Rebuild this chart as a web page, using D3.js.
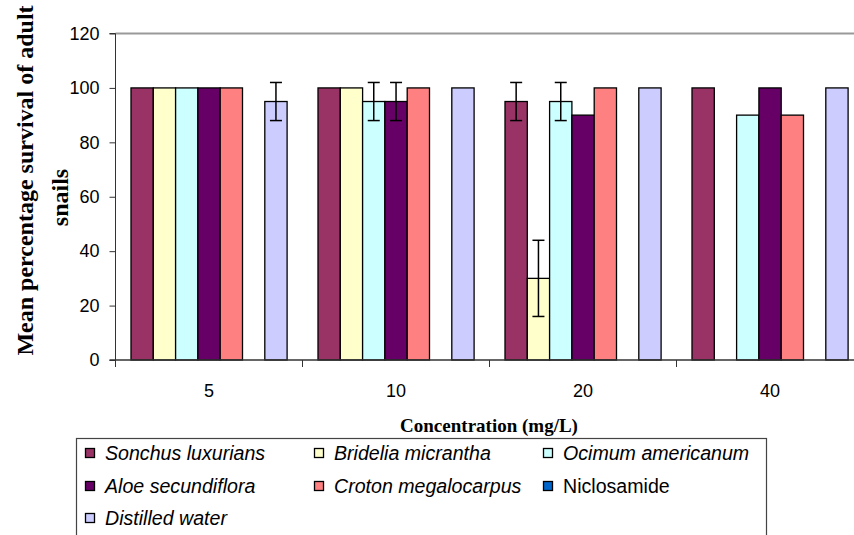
<!DOCTYPE html>
<html lang="en">
<head>
<meta charset="UTF-8">
<title>Snail survival</title>
<script src="https://cdn.jsdelivr.net/npm/d3@7"></script>
<style>
  body { margin: 0; background: #fff; }
  svg { display: block; }
</style>
</head>
<body>
<script>
// concentrations (mg/L)
const categories = ["5", "10", "20", "40"]

const seriesNames = ["Sonchus luxurians", "Bridelia micrantha", "Ocimum americanum",
    "Aloe secundiflora", "Croton megalocarpus", "Niclosamide", "Distilled water"]
const seriesColours = ["#993366", "#FFFFCC", "#CCFFFF", "#660066", "#FF8080", "#0066CC", "#CCCCFF"]
const italicNames = [true, true, true, true, true, false, true]

// mean % survival per concentration
const sonchus = [100, 100, 95, 100]
const bridelia = [100, 100, 30, 0]
const ocimum = [100, 95, 95, 90]
const aloe = [100, 95, 90, 100]
const croton = [100, 100, 100, 90]
const niclosamide = [0, 0, 0, 0]
const distilled = [95, 100, 100, 100]

// error bar half-lengths
const sonchusErr = [0, 0, 7, 0]
const brideliaErr = [0, 0, 14, 0]
const ocimumErr = [0, 7, 7, 0]
const aloeErr = [0, 7, 0, 0]
const crotonErr = [0, 0, 0, 0]
const niclosamideErr = [0, 0, 0, 0]
const distilledErr = [7, 0, 0, 0]

const yTicks = [0, 20, 40, 60, 80, 100, 120]

const values = [sonchus, bridelia, ocimum, aloe, croton, niclosamide, distilled]
const errors = [sonchusErr, brideliaErr, ocimumErr, aloeErr, crotonErr, niclosamideErr, distilledErr]

const rows = []
categories.forEach((c, ci) => {
    seriesNames.forEach((s, si) => {
        rows.push({cat: c, series: s, colour: seriesColours[si], value: values[si][ci], err: errors[si][ci]})
    })
})

const w = 854, h = 535
const svg = d3.select("body").append("svg").attr("width", w).attr("height", h)

const x0 = d3.scaleBand().domain(categories).range([115.5, 863.5])
const x1 = d3.scaleBand().domain(seriesNames).range([15.5, 171.6])
const y = d3.scaleLinear().domain([0, 120]).range([360, 33.5])

// plot top border
svg.append("line")
    .attr("x1", 115.5).attr("x2", w).attr("y1", y(120)).attr("y2", y(120))
    .attr("stroke", "#999").attr("stroke-width", 2)

// bars
svg.append("g").selectAll("rect")
    .data(rows).enter()
    .append("rect")
    .attr("x", d => x0(d.cat) + x1(d.series))
    .attr("y", d => y(d.value))
    .attr("width", x1.bandwidth())
    .attr("height", d => y(0) - y(d.value))
    .attr("fill", d => d.colour)
    .attr("stroke", "#000")
    .attr("stroke-width", 1.3)

// error bars
const eb = svg.append("g").selectAll("g")
    .data(rows.filter(d => d.err > 0)).enter()
    .append("g")
    .attr("stroke", "#000").attr("stroke-width", 1.5)
eb.append("line")
    .attr("x1", d => x0(d.cat) + x1(d.series) + x1.bandwidth() / 2)
    .attr("x2", d => x0(d.cat) + x1(d.series) + x1.bandwidth() / 2)
    .attr("y1", d => y(d.value + d.err)).attr("y2", d => y(d.value - d.err))
eb.selectAll(".cap")
    .data(d => [[d, d.value + d.err], [d, d.value - d.err]]).enter()
    .append("line")
    .attr("x1", d => x0(d[0].cat) + x1(d[0].series) + x1.bandwidth() / 2 - 6)
    .attr("x2", d => x0(d[0].cat) + x1(d[0].series) + x1.bandwidth() / 2 + 6)
    .attr("y1", d => y(d[1])).attr("y2", d => y(d[1]))

// y axis
const yAxis = d3.axisLeft(y).tickValues(yTicks).tickSize(6).tickPadding(10)
const gy = svg.append("g").attr("transform", "translate(115.5,0)").call(yAxis)
gy.select(".domain").attr("stroke", "#333").attr("d", `M-6,${y(120)}H0V${y(0)}`)
gy.selectAll(".tick line").attr("stroke", "#333")
gy.selectAll("text").attr("font-family", "Liberation Sans, Arial, sans-serif").attr("font-size", 18).attr("fill", "#000")

// x axis: ticks at the category boundaries, labels centred
const gx = svg.append("g").attr("transform", `translate(0,${y(0)})`)
gx.append("line").attr("x1", 109.5).attr("x2", w).attr("stroke", "#333").attr("stroke-width", 1.3)
gx.selectAll(".bt")
    .data(categories).enter()
    .append("line")
    .attr("x1", d => x0(d)).attr("x2", d => x0(d))
    .attr("y1", 0).attr("y2", 7)
    .attr("stroke", "#333")
gx.selectAll("text")
    .data(categories).enter()
    .append("text")
    .attr("x", d => x0(d) + x0.bandwidth() / 2)
    .attr("y", 37)
    .attr("text-anchor", "middle")
    .attr("font-family", "Liberation Sans, Arial, sans-serif")
    .attr("font-size", 18)
    .text(d => d)

// axis titles
svg.append("text")
    .attr("transform", "translate(33,180.5) rotate(-90)")
    .attr("text-anchor", "middle")
    .attr("font-family", "Liberation Serif, Times New Roman, serif")
    .attr("font-weight", "bold").attr("font-size", 24)
    .text("Mean percentage survival of adult")
svg.append("text")
    .attr("transform", "translate(68,197.5) rotate(-90)")
    .attr("text-anchor", "middle")
    .attr("font-family", "Liberation Serif, Times New Roman, serif")
    .attr("font-weight", "bold").attr("font-size", 24)
    .text("snails")

svg.append("text")
    .attr("x", 489).attr("y", 432)
    .attr("text-anchor", "middle")
    .attr("font-family", "Liberation Serif, Times New Roman, serif")
    .attr("font-weight", "bold").attr("font-size", 19)
    .text("Concentration (mg/L)")

// legend
const legend = svg.append("g")
legend.append("rect")
    .attr("x", 76.5).attr("y", 438.5).attr("width", 690).attr("height", 120)
    .attr("fill", "#fff").attr("stroke", "#444").attr("stroke-width", 1.2)

const colX = [85, 314, 543]
const rowY = [453, 486, 518]
const items = legend.selectAll(".item")
    .data(seriesNames).enter()
    .append("g")
    .attr("transform", (d, i) => `translate(${colX[i % 3]},${rowY[Math.floor(i / 3)]})`)
items.append("rect")
    .attr("x", 0.5).attr("y", -4.5).attr("width", 9).attr("height", 9)
    .attr("fill", (d, i) => seriesColours[i])
    .attr("stroke", "#000").attr("stroke-width", 1.3)
items.append("text")
    .attr("x", 20).attr("dy", "0.35em")
    .attr("font-family", "Liberation Sans, Arial, sans-serif")
    .attr("font-size", 19.6)
    .attr("font-style", (d, i) => italicNames[i] ? "italic" : "normal")
    .text(d => d)
</script>
</body>
</html>
